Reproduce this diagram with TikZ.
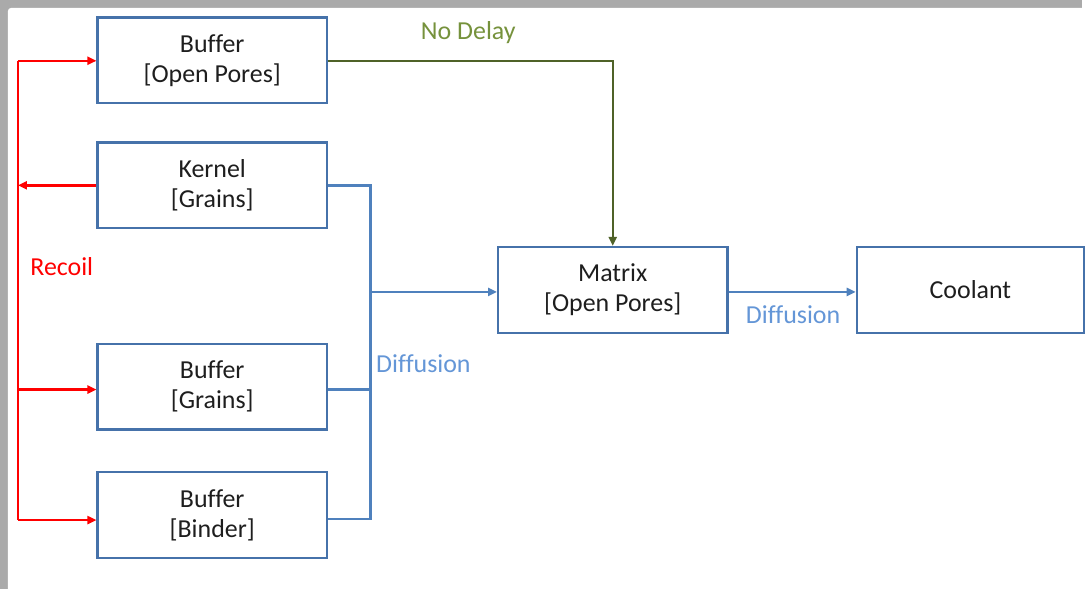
\documentclass[tikz,border=0pt]{standalone}
\usepackage{fontspec}
\setmainfont[Ligatures=NoCommon]{Carlito}
\usetikzlibrary{arrows.meta}
\definecolor{boxblue}{RGB}{70,114,170}
\definecolor{lineblue}{RGB}{79,129,189}
\definecolor{diffblue}{RGB}{100,150,215}
\definecolor{darkgreen}{RGB}{79,98,40}
\definecolor{textgreen}{RGB}{118,146,60}
\definecolor{shadow}{RGB}{170,170,170}
\definecolor{ink}{RGB}{30,30,30}
\begin{document}
\begin{tikzpicture}[x=1pt,y=-1pt,
  box/.style={draw=boxblue,line width=2.4pt,minimum width=230pt,minimum height=86pt,
    align=center,font=\fontsize{26}{30}\selectfont,text=ink,inner sep=0pt},
  tip/.style={-{Triangle[length=9pt,width=8pt]}},
  lbl/.style={font=\fontsize{26}{30}\selectfont,inner sep=0pt}]
\fill[shadow] (0,0) rectangle (1086,591);
\fill[white,rounded corners=3pt] (8,8) rectangle (1090,600);
\useasboundingbox (0,0) rectangle (1086,591);
\node[box] (bop) at (213,60.5) {Buffer\\{}[Open Pores]};
\node[box] (ker) at (213,186) {Kernel\\{}[Grains]};
\node[box] (bgr) at (213,388) {Buffer\\{}[Grains]};
\node[box] (bbi) at (213,517) {Buffer\\{}[Binder]};
\node[box] (mat) at (615,291) {Matrix\\{}[Open Pores]};
\node[box,minimum width=228pt] (cool) at (974,291) {Coolant};
% recoil (red)
\coordinate (rtop) at (18,61);
\coordinate (rker) at (18,186);
\coordinate (rgr) at (18,391);
\coordinate (rbi) at (18,522);
\draw[red,line width=2.4pt] (rtop) -- (rbi);
\draw[red,line width=2.4pt,tip] (rtop) -- (bop.west |- rtop);
\draw[red,line width=2.4pt,tip] (ker.west |- rker) -- (rker);
\draw[red,line width=2.4pt,tip] (rgr) -- (bgr.west |- rgr);
\draw[red,line width=2.4pt,tip] (rbi) -- (bbi.west |- rbi);
\node[lbl,text=red] (recoil) at (62,268) {Recoil};
% no delay (green)
\draw[darkgreen,line width=2.4pt,tip] (bop.east |- rtop) -| (mat.north);
\node[lbl,text=textgreen] (nodelay) at (470,33) {No Delay};
% diffusion (blue)
\coordinate (bus1) at (372,186);
\coordinate (bus2) at (372,391);
\coordinate (bus3) at (372,521);
\coordinate (busm) at (372,293);
\draw[lineblue,line width=2.4pt] (ker.east |- bus1) -- (bus1) -- (bus3) -- (bbi.east |- bus3);
\draw[lineblue,line width=2.4pt] (bgr.east |- bus2) -- (bus2);
\draw[lineblue,line width=2.4pt,tip] (busm) -- (mat.west |- busm);
\node[lbl,text=diffblue] (diff1) at (425,365) {Diffusion};
\draw[lineblue,line width=2.4pt,tip] (mat.east |- busm) -- (cool.west |- busm);
\node[lbl,text=diffblue] (diff2) at (796,316) {Diffusion};
\end{tikzpicture}
\end{document}
